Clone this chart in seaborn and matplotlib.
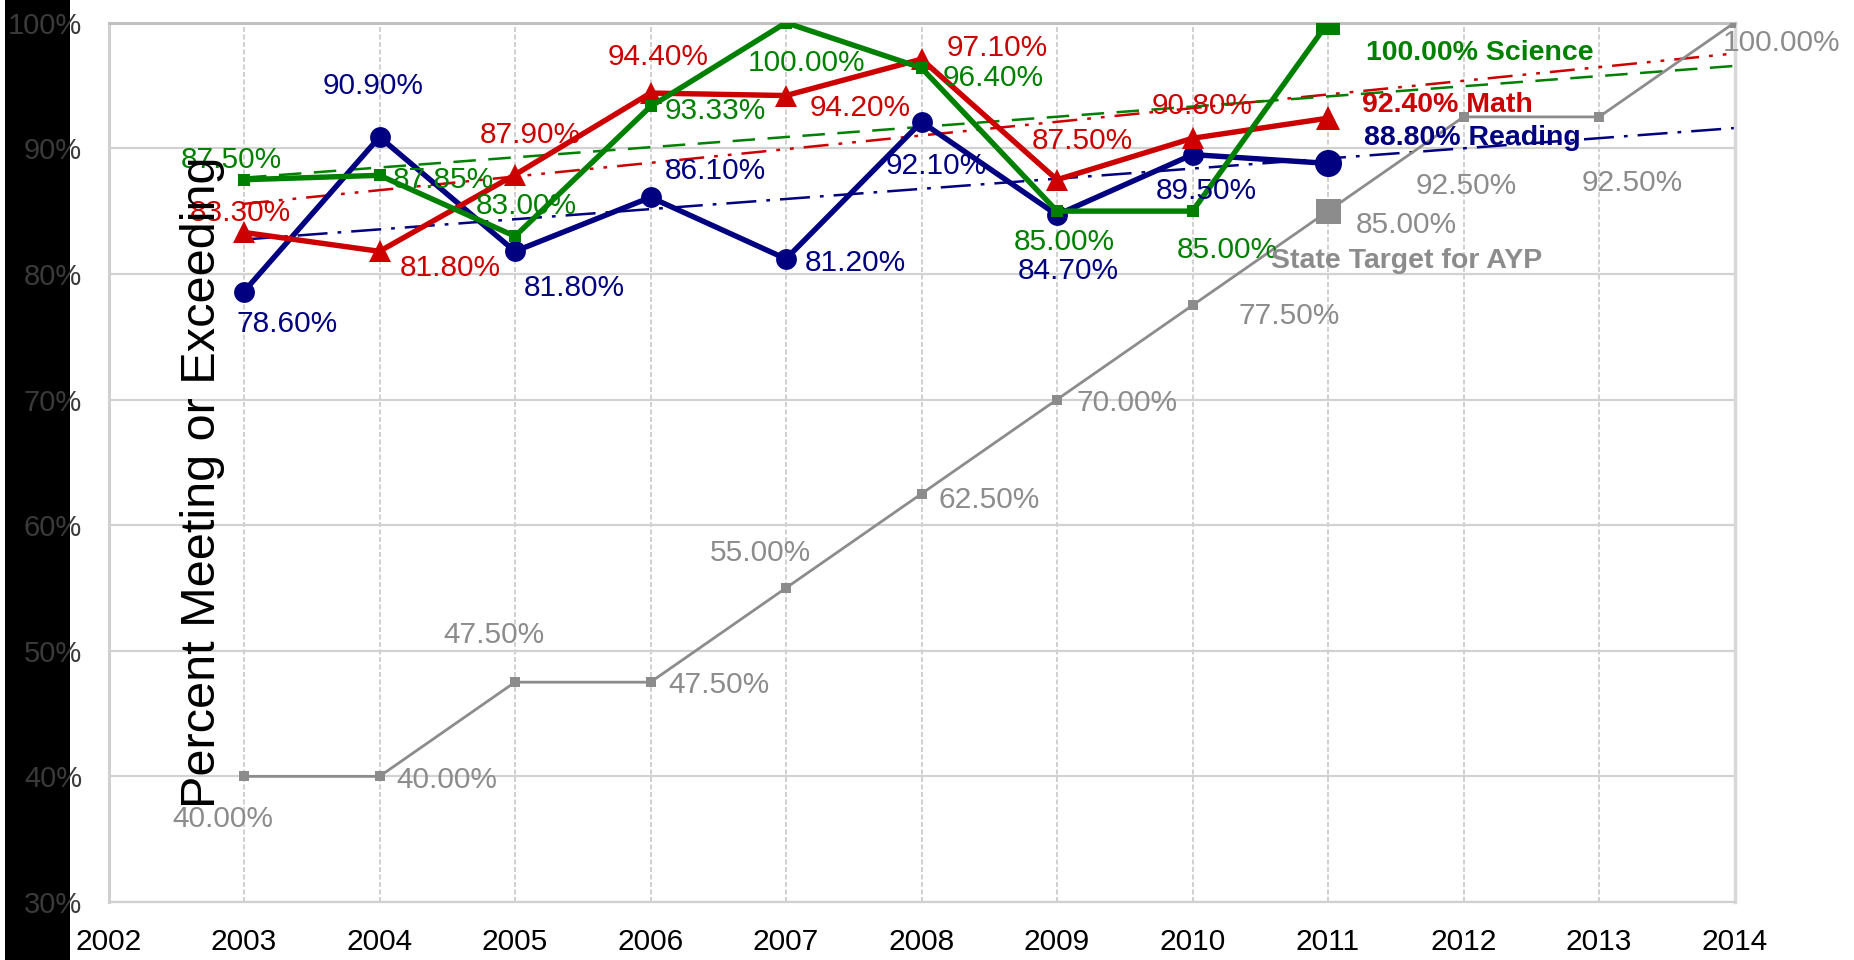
import matplotlib
matplotlib.use('Agg')
import matplotlib.pyplot as plt
import seaborn as sns
from matplotlib.patches import Rectangle
from matplotlib.ticker import FuncFormatter

sns.set_style('white')
plt.rcParams['font.family'] = ['Liberation Sans', 'DejaVu Sans']

# ----------------------------------------
# Data (percent meeting or exceeding)
# ----------------------------------------
years = [2003, 2004, 2005, 2006, 2007, 2008, 2009, 2010, 2011]
reading = [78.6, 90.9, 81.8, 86.1, 81.2, 92.1, 84.7, 89.5, 88.8]
math = [83.3, 81.8, 87.9, 94.4, 94.2, 97.1, 87.5, 90.8, 92.4]
science = [87.5, 87.85, 83.0, 93.33, 100.0, 96.4, 85.0, 85.0, 100.0]

target_years = [2003, 2004, 2005, 2006, 2007, 2008, 2009, 2010, 2011, 2012, 2013, 2014]
target = [40.0, 40.0, 47.5, 47.5, 55.0, 62.5, 70.0, 77.5, 85.0, 92.5, 92.5, 100.0]

x_ticks = list(range(2002, 2015))
y_ticks = [30, 40, 50, 60, 70, 80, 90, 100]

NAVY = '#000080'
RED = '#cc0000'
GREEN = '#008000'
GRAY = '#8c8c8c'

# label offsets in pixels (right, down) from each point
reading_off = [(43, 29), (-6, -54), (59, 34), (65, -29), (69, 1), (15, 41), (11, 53), (14, 33)]
math_off = [(-4, -22), (71, 14), (15, -43), (8, -39), (74, 9), (76, -14), (25, -42), (10, -35)]
science_off = [(-13, -23), (64, 2), (11, -33), (65, 2), (21, 37), (72, 7), (7, 28), (35, 36)]
target_off = [(-21, 40), (67, 1), (-21, -50), (68, 0), (-26, -38), (68, 3), (70, 0),
              (97, 8), (78, 11), (3, 66), (33, 63), (47, 17)]

W, H = 1854, 960
fig = plt.figure(figsize=(W / 100, H / 100), dpi=100)
ax = fig.add_axes([108.5 / W, 1 - 902 / H, (1734.5 - 108.5) / W, (902 - 22.7) / H])

# black strip on the left edge
fig.add_artist(Rectangle((5 / W, 0), 65 / W, 1, transform=fig.transFigure,
                         facecolor='black', edgecolor='none', zorder=-1))

# ----------------------------------------
# Linear trendlines (2003 - 2014)
# ----------------------------------------
ax.set_xlim(2003, 2014)
sns.regplot(x=years, y=reading, ax=ax, scatter=False, ci=None, truncate=False,
            line_kws=dict(color=NAVY, lw=1.8, dashes=(12, 4, 1.5, 4), zorder=2))
sns.regplot(x=years, y=math, ax=ax, scatter=False, ci=None, truncate=False,
            line_kws=dict(color=RED, lw=1.8, dashes=(10, 4, 1.5, 4, 1.5, 4), zorder=2))
sns.regplot(x=years, y=science, ax=ax, scatter=False, ci=None, truncate=False,
            line_kws=dict(color=GREEN, lw=1.8, dashes=(9, 5), zorder=2))

# ----------------------------------------
# Series lines
# ----------------------------------------
sns.lineplot(x=target_years, y=target, ax=ax, color=GRAY, lw=2.0, marker='s',
             markersize=7.5, markeredgewidth=0, zorder=3)
sns.lineplot(x=years, y=reading, ax=ax, color=NAVY, lw=3.9, marker='o',
             markersize=15, markeredgewidth=0, zorder=4)
sns.lineplot(x=years, y=math, ax=ax, color=RED, lw=3.9, marker='^',
             markersize=16.5, markeredgewidth=0, zorder=5)
sns.lineplot(x=years, y=science, ax=ax, color=GREEN, lw=3.9, marker='s',
             markersize=8.5, markeredgewidth=0, zorder=6)

# bigger markers for the latest year
ax.plot(target_years[8], target[8], marker='s', ms=18, color=GRAY, mew=0, zorder=3)
ax.plot(years[-1], reading[-1], marker='o', ms=19.5, color=NAVY, mew=0, zorder=4)
ax.plot(years[-1], math[-1], marker='^', ms=17.5, color=RED, mew=0, zorder=5)
ax.plot(years[-1], science[-1], marker='s', ms=17, color=GREEN, mew=0, zorder=6)

ax.set_xlim(2002, 2014)
ax.set_ylim(30, 100)


# ----------------------------------------
# Data labels
# ----------------------------------------
def label_series(xs, vs, offsets, color):
    for x, v, (dx, dy) in zip(xs, vs, offsets):
        ax.annotate(f'{v:.2f}%', (x, v), xytext=(dx, -dy - 3), textcoords='offset pixels',
                    ha='center', va='center', color=color, fontsize=21.5, zorder=8)


label_series(years, reading, reading_off, NAVY)
label_series(years, math, math_off, RED)
label_series(years, science, science_off, GREEN)
label_series(target_years, target, target_off, GRAY)

bold = dict(textcoords='offset pixels', ha='left', va='center', fontsize=20.5,
            fontweight='bold', zorder=8)
ax.annotate(f'{science[-1]:.2f}% Science', (years[-1], science[-1]), xytext=(38, -30),
            color=GREEN, **bold)
ax.annotate(f'{math[-1]:.2f}% Math', (years[-1], math[-1]), xytext=(34, 13),
            color=RED, **bold)
ax.annotate(f'{reading[-1]:.2f}% Reading', (years[-1], reading[-1]), xytext=(36, 25),
            color=NAVY, **bold)
ax.annotate('State Target for AYP', (target_years[8], target[8]), xytext=(-57, -50),
            color=GRAY, **bold)

# ----------------------------------------
# Axes styling
# ----------------------------------------
ax.set_xticks(x_ticks)
ax.set_yticks(y_ticks)
ax.yaxis.set_major_formatter(FuncFormatter(lambda v, p: f'{int(v)}%'))
ax.set_xlabel('')
ax.set_ylabel('')

ax.set_axisbelow(True)
ax.grid(axis='y', color='#d2d2d2', lw=1.6, ls='-')
ax.grid(axis='x', color='#c8c8c8', lw=1.2, ls=(0, (3, 1.5)))

ax.spines['left'].set_color('#d0d0d0')
ax.spines['left'].set_linewidth(2.2)
ax.spines['right'].set_color('#d8d8d8')
ax.spines['right'].set_linewidth(2.5)
ax.spines['top'].set_color('#c0c0c0')
ax.spines['top'].set_linewidth(2.2)
ax.spines['bottom'].set_color('#d0d0d0')
ax.spines['bottom'].set_linewidth(1.6)

ax.tick_params(axis='y', length=7, width=1.5, color='#d0d0d0', pad=12,
               labelsize=21, labelcolor='#3a3a3a')
ax.tick_params(axis='x', length=8, width=1.5, color='#d0d0d0', pad=11,
               labelsize=21.5, labelcolor='black')

fig.text(203 / W, 1 - 482 / H, 'Percent Meeting or Exceeding', rotation=90,
         fontsize=35, ha='center', va='center', color='black')

fig.savefig('out.png', dpi=100)
